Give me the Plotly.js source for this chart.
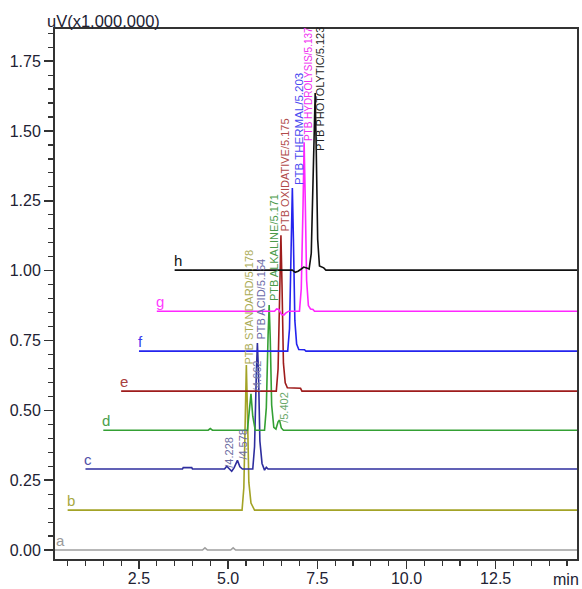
<!DOCTYPE html>
<html>
<head>
<meta charset="utf-8">
<script src="https://cdn.plot.ly/plotly-3.0.1.min.js"></script>
<style>
  html, body { margin: 0; padding: 0; background: #ffffff; }
  #chart { width: 582px; height: 589px; }
</style>
</head>
<body>
<div id="chart"></div>
<script>
// ---- Data (time in min as displayed, response in uV x1,000,000 above each trace baseline) ----
const traceNames = ["a", "b", "c", "d", "e", "f", "g", "h"];
const baselines  = [0.000, 0.143, 0.290, 0.429, 0.569, 0.712, 0.855, 1.002];
const traceColors = ["#a0a0a0", "#a3a326", "#2e2e9e", "#34a034", "#9e1c1c", "#2424ee", "#ff26ff", "#111111"];
const letterColors = ["#9a9a9a", "#a8a840", "#5050a8", "#4aa04a", "#a84040", "#3a3aee", "#ff3cff", "#111111"];

const a_t = [0, 4.28, 4.35, 4.42, 5.07, 5.14, 5.21, 15];
const a_r = [0, 0, 0.008, 0, 0, 0.008, 0, 0];

const b_t = [0.5, 5.39, 5.44, 5.48, 5.51, 5.54, 5.58, 5.64, 5.74, 15];
const b_r = [0, 0, 0.08, 0.38, 0.519, 0.36, 0.10, 0.025, 0, 0];

const c_t = [1.0, 3.72, 3.74, 3.98, 4.0, 4.90, 4.96, 5.03, 5.10, 5.17, 5.26, 5.33, 5.40, 5.69, 5.74, 5.79, 5.82, 5.85, 5.89, 5.95, 6.02, 6.07, 6.12, 15];
const c_r = [0, 0, 0.005, 0.005, 0, 0, 0.010, 0, -0.008, 0.005, 0.031, 0.008, 0, 0, 0.08, 0.34, 0.451, 0.35, 0.10, 0.02, -0.004, 0.006, 0, 0];

const d_t = [1.5, 4.44, 4.50, 4.56, 5.54, 5.60, 5.64, 5.69, 5.76, 6.02, 6.07, 6.12, 6.15, 6.18, 6.22, 6.28, 6.34, 6.40, 6.44, 6.49, 6.55, 15];
const d_r = [0, 0, 0.006, 0, 0, 0.07, 0.13, 0.05, 0, 0, 0.08, 0.34, 0.448, 0.33, 0.09, 0.01, 0.004, 0.03, 0.036, 0.008, 0, 0];

const e_t = [2.0, 6.35, 6.40, 6.45, 6.48, 6.51, 6.55, 6.60, 6.66, 7.03, 7.07, 15];
const e_r = [0, 0, 0.08, 0.36, 0.558, 0.38, 0.10, 0.03, 0.012, 0.010, 0, 0];

const f_t = [2.5, 6.67, 6.72, 6.77, 6.80, 6.83, 6.87, 6.92, 6.98, 7.14, 7.18, 15];
const f_r = [0, 0, 0.08, 0.38, 0.584, 0.40, 0.11, 0.025, 0.006, 0.005, 0, 0];

const g_t = [3.0, 6.30, 6.36, 6.42, 6.50, 6.56, 6.62, 6.70, 7.00, 7.05, 7.10, 7.13, 7.16, 7.20, 7.25, 7.31, 7.38, 7.42, 15];
const g_r = [0, 0, 0.008, 0.006, -0.012, -0.014, -0.006, 0, 0, 0.08, 0.38, 0.605, 0.41, 0.11, 0.02, 0.008, 0.006, 0, 0];

const h_t = [3.5, 6.80, 6.88, 6.96, 7.05, 7.12, 7.20, 7.27, 7.33, 7.38, 7.42, 7.44, 7.47, 7.51, 7.56, 7.62, 7.68, 7.74, 15];
const h_r = [0, 0, -0.008, -0.004, 0.004, 0.011, 0.008, 0.004, 0.06, 0.33, 0.58, 0.634, 0.43, 0.11, 0.015, 0.012, 0.008, 0, 0];

const allTimes = [a_t, b_t, c_t, d_t, e_t, f_t, g_t, h_t];
const allResp  = [a_r, b_r, c_r, d_r, e_r, f_r, g_r, h_r];

// Peak labels: text, time, level (absolute, displayed), colour, size
const peakLabels  = ["PTB STANDARD/5.178", "PTB ACID/5.154", "/4.662", "/4.228", "/4.578", "/5.402",
                     "PTB ALKALINE/5.171", "PTB OXIDATIVE/5.175", "PTB THERMAL/5.203",
                     "PTB HYDROLYSIS/5.137", "PTB PHOTOLYTIC/5.123"];
const peakLabelT  = [5.585, 5.92, 5.81, 5.025, 5.39, 6.57, 6.27, 6.62, 6.985, 7.27, 7.575];
const peakLabelY  = [0.655, 0.748, 0.560, 0.286, 0.315, 0.447, 0.884, 1.135, 1.299, 1.457, 1.421];
const peakLabelC  = ["#abab55", "#6a6aa8", "#7a7aa8", "#6a6aa0", "#6a6aa0", "#6aa86a",
                     "#4a9a4a", "#b04a4a", "#4a4af0", "#f030f0", "#222222"];
const peakLabelS  = [11, 11, 11, 11, 11, 11, 11, 11, 11.5, 10, 11];

const xTickVals = [2.5, 5.0, 7.5, 10.0, 12.5];
const yTickVals = [0.00, 0.25, 0.50, 0.75, 1.00, 1.25, 1.50, 1.75];

// ---- Build traces ----
const data = traceNames.map((n, i) => ({
  type: "scatter",
  mode: "lines",
  name: n,
  x: allTimes[i],
  y: allResp[i].map(v => v + baselines[i]),
  line: { color: traceColors[i], width: 1.6 },
  hoverinfo: "skip"
}));

const fam = "Liberation Sans, Arial, sans-serif";
const annotations = [];
traceNames.forEach((n, i) => {
  annotations.push({
    x: allTimes[i][0] === 0 ? 0.2 : allTimes[i][0],
    y: baselines[i],
    xref: "x", yref: "y",
    text: n,
    showarrow: false,
    xanchor: "left", yanchor: "bottom",
    xshift: -3, yshift: -1,
    font: { family: fam, size: 15, color: letterColors[i] }
  });
});
peakLabels.forEach((t, i) => {
  annotations.push({
    x: peakLabelT[i], y: peakLabelY[i],
    xref: "x", yref: "y",
    text: t,
    textangle: -90,
    showarrow: false,
    xanchor: "center", yanchor: "bottom",
    font: { family: fam, size: peakLabelS[i], color: peakLabelC[i] }
  });
});
annotations.push({
  x: -0.019, y: 0.994, xref: "paper", yref: "paper",
  text: "uV(x1,000,000)", showarrow: false,
  xanchor: "left", yanchor: "bottom",
  font: { family: fam, size: 16.5, color: "#222233" }
});
annotations.push({
  x: 0.979, y: -0.019, xref: "paper", yref: "paper",
  text: "min", showarrow: false,
  xanchor: "center", yanchor: "top",
  font: { family: fam, size: 16, color: "#222233" }
});

const axisFont = { family: fam, size: 16, color: "#222233" };

const layout = {
  width: 582, height: 589,
  margin: { l: 55, r: 5, t: 29, b: 30, pad: 0 },
  paper_bgcolor: "#ffffff",
  plot_bgcolor: "#ffffff",
  showlegend: false,
  xaxis: {
    range: [0.146, 14.78],
    tickmode: "array",
    tickvals: xTickVals,
    ticktext: xTickVals.map(v => v.toFixed(1)),
    ticks: "outside", ticklen: 8, tickwidth: 1.5, tickcolor: "#333333",
    ticklabelstandoff: -4,
    minor: { tick0: 0, dtick: 0.5, ticks: "outside", ticklen: 5, tickwidth: 1.2, tickcolor: "#333333", showgrid: false },
    showline: true, linecolor: "#333333", linewidth: 2, mirror: true,
    showgrid: false, zeroline: false,
    tickfont: axisFont
  },
  yaxis: {
    range: [-0.032, 1.865],
    tickmode: "array",
    tickvals: yTickVals,
    ticktext: yTickVals.map(v => v.toFixed(2)),
    ticks: "outside", ticklen: 9, tickwidth: 1.5, tickcolor: "#333333",
    minor: { tick0: 0, dtick: 0.05, ticks: "outside", ticklen: 5, tickwidth: 1.2, tickcolor: "#333333", showgrid: false },
    showline: true, linecolor: "#333333", linewidth: 2, mirror: true,
    showgrid: false, zeroline: false,
    tickfont: axisFont
  },
  annotations: annotations
};

Plotly.newPlot("chart", data, layout, { staticPlot: true, displayModeBar: false });
</script>
</body>
</html>
